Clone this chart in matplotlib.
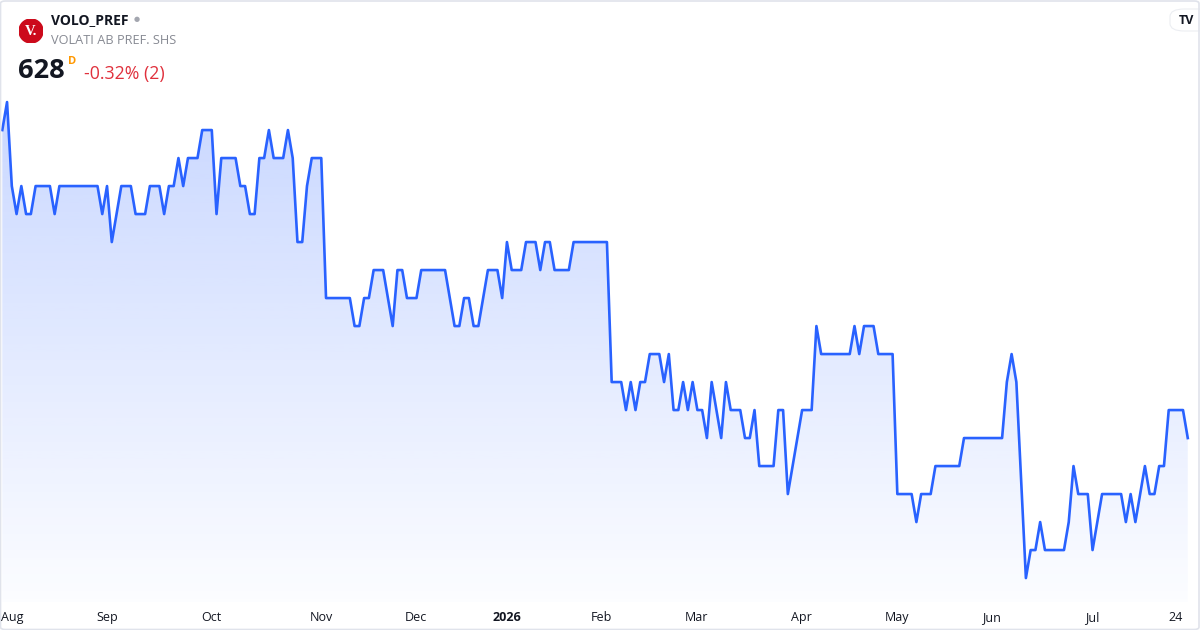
import matplotlib
matplotlib.use("Agg")
import matplotlib.pyplot as plt
import numpy as np
from matplotlib.patches import Circle, FancyBboxPatch

plt.rcParams['font.family'] = ['Open Sans', 'DejaVu Sans']

# daily closes (one value per trading day)
prices = [
    650, 652, 646, 644, 646, 644, 644, 646, 646, 646, 646, 644, 646, 646, 646, 646,
    646, 646, 646, 646, 646, 644, 646, 642, 644, 646, 646, 646, 644, 644, 644, 646,
    646, 646, 644, 646, 646, 648, 646, 648, 648, 648, 650, 650, 650, 644, 648, 648,
    648, 648, 646, 646, 644, 644, 648, 648, 650, 648, 648, 648, 650, 648, 642, 642,
    646, 648, 648, 648,
    638, 638, 638, 638, 638, 638, 636, 636, 638, 638, 640, 640, 640, 638, 636, 640,
    640, 638, 638, 638, 640, 640, 640, 640, 640, 640, 638, 636, 636, 638, 638, 636,
    636, 638, 640, 640, 640, 638, 642, 640, 640, 640, 642, 642, 642, 640, 642, 642,
    640, 640, 640, 640, 642, 642, 642, 642, 642, 642, 642, 642,
    632, 632, 632, 630, 632, 630, 632, 632, 634, 634, 634, 632, 634, 630, 630, 632,
    630, 632, 630, 630, 628, 632, 630, 628, 632, 630, 630, 630, 628, 628, 630, 626,
    626, 626, 626, 630, 630, 624, 626, 628, 630, 630, 630, 636, 634, 634, 634, 634,
    634, 634, 634, 636, 634, 636, 636, 636, 634, 634, 634, 634,
    624, 624, 624, 624, 622, 624, 624, 624, 626, 626, 626, 626, 626, 626, 628, 628,
    628, 628, 628, 628, 628, 628, 628, 632, 634, 632, 625, 618, 620, 620, 622, 620,
    620, 620, 620, 620, 622, 626, 624, 624, 624, 620, 622, 624, 624, 624, 624, 624,
    622, 624, 622, 624, 626, 624, 624, 626, 626, 630, 630, 630, 630, 628,
]
tick_pos = [0, 22, 44, 67, 87, 106, 126, 146, 168, 188, 208, 229, 246.5]
tick_labels = ["Aug", "Sep", "Oct", "Nov", "Dec", "2026", "Feb", "Mar", "Apr", "May", "Jun", "Jul", "24"]

x = np.arange(len(prices))
y = np.array(prices, dtype=float)

fig = plt.figure(figsize=(12, 6.3), dpi=100)
ax = fig.add_axes([0, 28 / 630, 1193 / 1200, 602 / 630])
ax.set_xlim(-0.48, 250.1)
ax.set_ylim(616.29, 659.29)

# gradient area under the line
poly = ax.fill_between(x, y, 616.29, color="none", lw=0)
grad = np.linspace(0, 1, 256).reshape(-1, 1)
top = np.array([41, 98, 255]) / 255
alpha_top, alpha_bot = 0.30, 0.015
cols = np.zeros((256, 1, 4))
cols[..., :3] = top
cols[..., 3] = (alpha_bot + (alpha_top - alpha_bot) * grad)
im = ax.imshow(cols, extent=[-0.48, 250.1, 616.29, 659.29], origin="lower",
               aspect="auto", zorder=1)
im.set_clip_path(poly.get_paths()[0], transform=ax.transData)

ax.plot(x, y, color="#2962ff", lw=1.9, zorder=3)

for s in ax.spines.values():
    s.set_visible(False)
ax.set_yticks([])
ax.set_xticks([])

# month labels
for p, lab in zip(tick_pos, tick_labels):
    px = 2.3 + p * 4.758
    ha = "center"
    if lab == "Aug":
        px = 1
        ha = "left"
    fig.text(px / 1200, 1 - 617.5 / 630, lab, ha=ha, va="center", fontsize=9,
             color="#131722", fontweight="bold" if lab == "2026" else "normal")

# header
logo_ax = fig.add_axes([19 / 1200, 1 - 43 / 630, 24 / 1200, 24 / 630])
logo_ax.set_xlim(-1, 1)
logo_ax.set_ylim(-1, 1)
logo_ax.set_aspect("equal")
logo_ax.axis("off")
logo_ax.add_patch(Circle((0, 0), 1, color="#cc0a1b"))
logo_ax.text(0.02, -0.06, "V.", ha="center", va="center", color="white", fontsize=10.5,
             fontweight="bold", family=["Liberation Serif", "DejaVu Serif"])

fig.text(51 / 1200, 1 - 20 / 630, "VOLO_PREF", ha="left", va="center", fontsize=10,
         fontweight="bold", color="#131722")
fig.text(137 / 1200, 1 - 20 / 630, "\u25CF", ha="center", va="center", fontsize=5,
         color="#a3a6af")
fig.text(51 / 1200, 1 - 41 / 630, "VOLATI AB PREF. SHS", ha="left", va="center",
         fontsize=9.2, color="#878a93")
fig.text(18 / 1200, 1 - 71 / 630, "628", ha="left", va="center", fontsize=19.5,
         fontweight="bold", color="#131722")
fig.text(68 / 1200, 1 - 62 / 630, "D", ha="left", va="center", fontsize=8,
         fontweight="bold", color="#ff9800")
fig.text(84 / 1200, 1 - 74 / 630, "-0.32% (2)", ha="left", va="center", fontsize=12.8,
         color="#e0303c")

# TradingView badge
badge = FancyBboxPatch((1170 / 1200, 1 - 31 / 630), 42 / 1200, 22 / 630,
                       boxstyle="round,pad=0,rounding_size=0.012",
                       transform=fig.transFigure, facecolor="white",
                       edgecolor="#eceef2", lw=0.8)
fig.patches.append(badge)
fig.text(1186 / 1200, 1 - 20 / 630, "TV", ha="center", va="center", fontsize=9,
         fontweight="bold", color="#131722")

# outer frame
frame = FancyBboxPatch((0.5 / 1200, 0.5 / 630), 1198.5 / 1200, 628.5 / 630,
                       boxstyle="round,pad=0,rounding_size=0.004",
                       transform=fig.transFigure, facecolor="none",
                       edgecolor="#e0e3eb", lw=1.2)
fig.patches.append(frame)

fig.savefig("out.png", dpi=100)
